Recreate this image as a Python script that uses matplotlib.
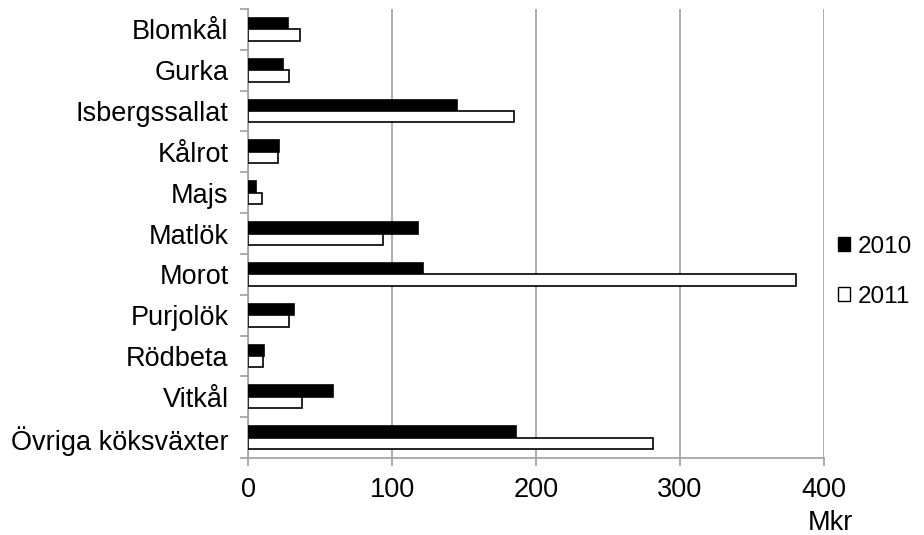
import numpy as np
import matplotlib.pyplot as plt
from matplotlib.patches import Patch

plt.rcParams['font.family'] = ['Liberation Sans', 'DejaVu Sans']

# Data (Mkr)
categories = ["Blomkål", "Gurka", "Isbergssallat", "Kålrot", "Majs", "Matlök",
              "Morot", "Purjolök", "Rödbeta", "Vitkål", "Övriga köksväxter"]
values_2010 = [27.5, 24, 145, 21.7, 5.4, 118.4, 121.5, 32, 11.4, 59, 186]
values_2011 = [36.4, 28.7, 185, 20.8, 10, 93.5, 380.6, 28.7, 10.7, 37.3, 281.5]
xticks = [0, 100, 200, 300, 400]

fig = plt.figure(figsize=(9.24, 5.35), dpi=100)
ax = fig.add_axes([248 / 924, 1 - 458 / 535, 576 / 924, 449 / 535])

y = np.arange(len(categories))
h = 0.28
ax.barh(y - h / 2, values_2010, height=h, color="black", edgecolor="black",
        linewidth=1.2, label="2010", zorder=3)
ax.barh(y + h / 2, values_2011, height=h, color="white", edgecolor="black",
        linewidth=1.2, label="2011", zorder=3)

ax.set_ylim(len(categories) - 0.5, -0.5)
ax.set_xlim(0, 400)

grey = "#a0a0a0"
ax.set_xticks(xticks)
ax.set_xticklabels([str(t) for t in xticks])
ax.xaxis.grid(True, color=grey, linewidth=1.2, zorder=0)
ax.tick_params(axis="x", direction="out", length=6, width=1.2, color=grey,
               labelsize=19.5, pad=8)

# category labels centred, tick marks on the boundaries
ax.set_yticks(y)
ax.set_yticklabels(categories)
ax.set_yticks(np.arange(len(categories) + 1) - 0.5, minor=True)
ax.tick_params(axis="y", which="major", length=0, labelsize=19.5, pad=14)
ax.tick_params(axis="y", which="minor", direction="out", length=6, width=1.2, color=grey)

for side in ["top", "right"]:
    ax.spines[side].set_visible(False)
for side in ["left", "bottom"]:
    ax.spines[side].set_color(grey)
    ax.spines[side].set_linewidth(1.2)

fig.text(830 / 924, 1 - 523 / 535, "Mkr", ha="center", va="center", fontsize=19.5)

handles = [Patch(facecolor="black", edgecolor="black", label="2010"),
           Patch(facecolor="white", edgecolor="black", label="2011")]
fig.legend(handles=handles, loc="center left", bbox_to_anchor=(838 / 924, 1 - 272 / 535),
           frameon=False, fontsize=17.5, handlelength=0.5, handleheight=0.5,
           handletextpad=0.3, labelspacing=1.15, borderpad=0, borderaxespad=0)

fig.savefig("out.png", dpi=100)
